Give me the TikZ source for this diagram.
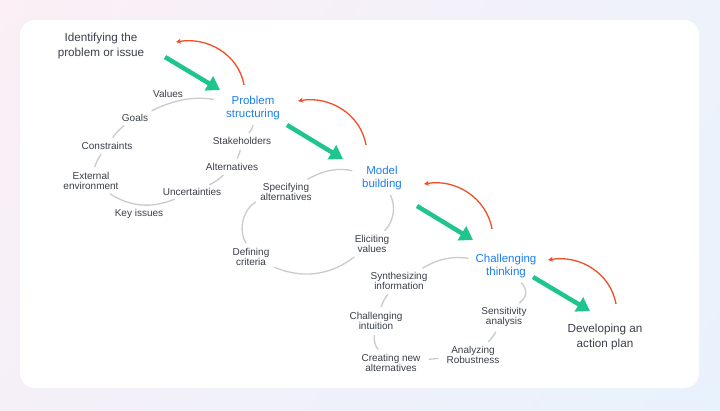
\documentclass[tikz,border=0pt]{standalone}
\usepackage{fontspec}
\setmainfont{Liberation Sans}
\usetikzlibrary{arrows.meta,shadings}

\definecolor{flowgreen}{HTML}{20C48E}
\definecolor{backred}{HTML}{F04E23}
\definecolor{stageblue}{HTML}{1C7FF0}
\definecolor{txtgray}{HTML}{3A3F4A}
\definecolor{ringgray}{HTML}{CACBCF}
\definecolor{bgpink}{HTML}{FCEFF6}
\definecolor{bgpinkb}{HTML}{F5F0F8}
\definecolor{bgblue}{HTML}{E8F2FC}
\definecolor{bgbluea}{HTML}{EEF2FB}

\begin{document}
\begin{tikzpicture}[x=1pt,y=-1pt,
	lbl/.style={font=\fontsize{10}{10.5}\selectfont, text=txtgray, align=center, inner sep=2pt},
	stage/.style={font=\fontsize{11.5}{13.5}\selectfont, text=stageblue, align=center, inner sep=2pt},
	endpt/.style={font=\fontsize{11.7}{14.5}\selectfont, text=txtgray, align=center, inner sep=2pt},
	ring/.style={draw=ringgray, line width=1.3pt, shorten <=3pt, shorten >=3pt},
	flow/.style={draw=flowgreen, line width=4.5pt, -{Triangle[length=13pt,width=16pt]}},
	back/.style={draw=backred, line width=1.3pt, -{Stealth[length=5pt,width=5pt]}}]

	% background and card
	\shade[upper left=bgpink, upper right=bgbluea, lower left=bgpinkb, lower right=bgblue] (0,0) rectangle (720,410);
	\fill[white, rounded corners=15pt] (20,20) rectangle (699,388);
	\useasboundingbox (0,0) rectangle (720,410);

	% stages
	\node[endpt] (ident) at (101,46) {Identifying the\\problem or issue};
	\node[stage] (prob) at (253,108) {Problem\\structuring};
	\node[stage] (model) at (382,178) {Model\\building};
	\node[stage] (chal) at (506,266) {Challenging\\thinking};
	\node[endpt] (dev) at (605,337) {Developing an\\action plan};

	% problem structuring
	\node[lbl] (values) at (168,94) {Values};
	\node[lbl] (goals) at (135,118) {Goals};
	\node[lbl] (constr) at (107,146) {Constraints};
	\node[lbl] (extenv) at (91,181) {External\\environment};
	\node[lbl] (keyiss) at (139,214) {Key issues};
	\node[lbl] (uncert) at (192,192) {Uncertainties};
	\node[lbl] (altern) at (232,167) {Alternatives};
	\node[lbl] (stake) at (242,141) {Stakeholders};

	\draw[ring, shorten <=10pt] (prob) to[bend right=18] (goals);
	\draw[ring] (goals) to[bend right=10] (constr);
	\draw[ring] (constr) to[bend right=10] (extenv);
	\draw[ring] (extenv) to[bend right=28] (uncert);
	\draw[ring] (uncert) to[bend right=10] (altern);
	\draw[ring] (altern) to[bend right=10] (stake);
	\draw[ring] (stake) to[bend right=20] (prob);

	% model building
	\node[lbl] (specalt) at (286,192) {Specifying\\alternatives};
	\node[lbl] (defcrit) at (251,257) {Defining\\criteria};
	\node[lbl] (elicit) at (372,244) {Eliciting\\values};

	\draw[ring, shorten <=8pt] (model) to[bend right=22] (specalt);
	\draw[ring] (specalt) to[bend right=45] (defcrit);
	\draw[ring] (defcrit) to[bend right=30] (elicit);
	\draw[ring] (elicit) to[bend right=35] (model);

	% challenging thinking
	\node[lbl] (synth) at (399,281) {Synthesizing\\information};
	\node[lbl] (intuit) at (376,321) {Challenging\\intuition};
	\node[lbl] (newalt) at (391,363) {Creating new\\alternatives};
	\node[lbl] (robust) at (473,355) {Analyzing\\Robustness};
	\node[lbl] (sensit) at (504,317) {Sensitivity\\analysis};

	\draw[ring, shorten <=5pt] (chal) to[bend right=20] (synth);
	\draw[ring] (synth) to[bend right=10] (intuit);
	\draw[ring] (intuit) to[bend right=25] (newalt);
	\draw[ring, shorten <=6pt, shorten >=6pt] (newalt) to (robust);
	\draw[ring] (robust) to[bend right=10] (sensit);
	\draw[ring] (sensit) to[bend right=45, looseness=1.4] (chal);

	% forward steps
	\draw[flow] ([shift={(64,11)}]ident.center) -- ([shift={(-33,-18)}]prob.center);
	\draw[flow] ([shift={(34,17)}]prob.center) -- ([shift={(-39,-19)}]model.center);
	\draw[flow] ([shift={(35,28)}]model.center) -- ([shift={(-33,-26)}]chal.center);
	\draw[flow] ([shift={(27,11)}]chal.center) -- ([shift={(-15,-26)}]dev.center);

	% going back
	\draw[back] ([shift={(-9,-23)}]prob.center) to[out=100, in=10] ([shift={(75,-4)}]ident.center);
	\draw[back] ([shift={(-16,-33)}]model.center) to[out=100, in=10] ([shift={(45,-7)}]prob.center);
	\draw[back] ([shift={(-14,-37)}]chal.center) to[out=100, in=10] ([shift={(42,6)}]model.center);
	\draw[back] ([shift={(11,-33)}]dev.center) to[out=100, in=10] ([shift={(42,-6)}]chal.center);
\end{tikzpicture}
\end{document}
